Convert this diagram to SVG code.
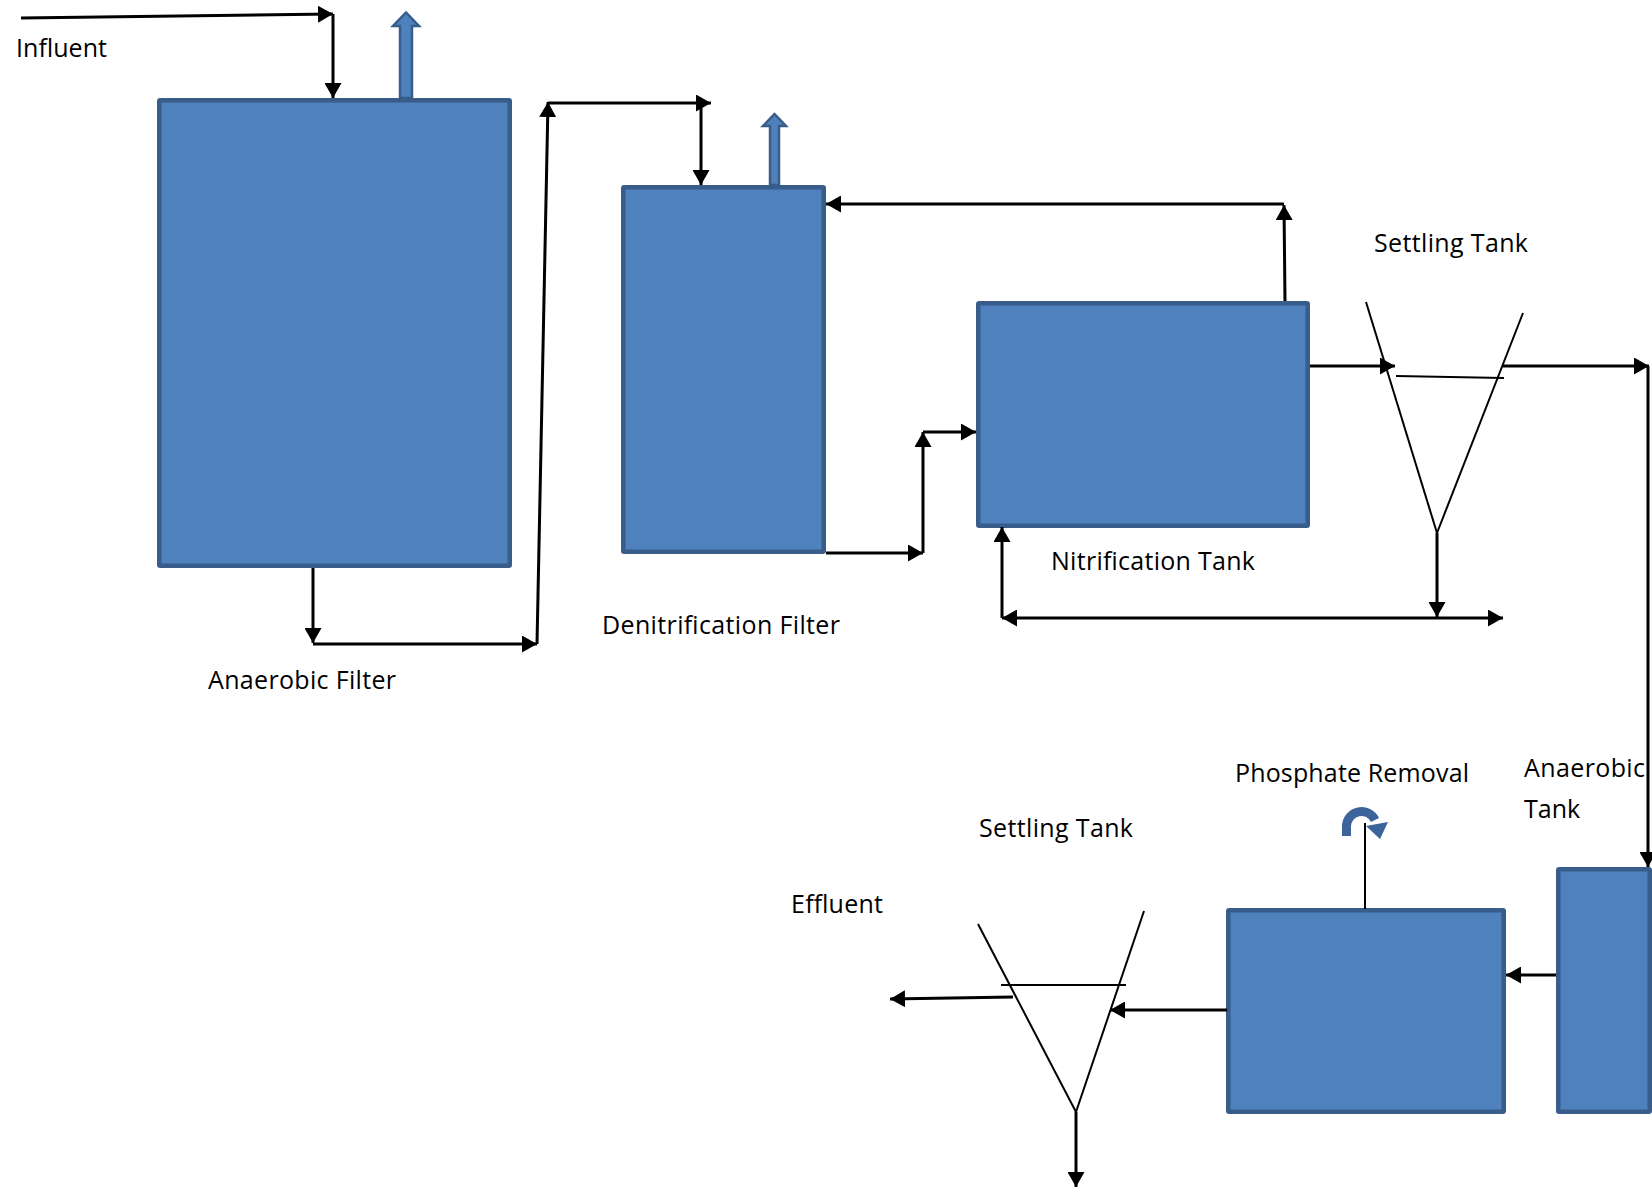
<svg xmlns="http://www.w3.org/2000/svg" width="1652" height="1189" viewBox="0 0 1652 1189">
<style>
.tank{fill:#4f81bd;stroke:#385d8a;stroke-width:4.5}
.barrow{fill:#4f81bd;stroke:#385d8a;stroke-width:2.5;stroke-linejoin:miter}
.c{stroke:#000;stroke-width:3;fill:none}
.thin{stroke:#000;stroke-width:2;fill:none}
.lbl{font-family:"Open Sans","Noto Sans","Liberation Sans",sans-serif;font-size:25px;fill:#000}
</style>
<defs>
<marker id="ah" markerUnits="userSpaceOnUse" markerWidth="15" markerHeight="17" refX="15" refY="8.5" orient="auto-start-reverse" viewBox="0 0 15 17">
<path d="M0,0 L15,8.5 L0,17 Z" fill="#000"/>
</marker>
</defs>
<rect width="1652" height="1189" fill="#fff"/>

<g id="anaerobic-filter">
<rect class="tank" x="159.25" y="100.25" width="350.5" height="465.5" rx="1"/>
<polygon class="barrow" points="400,98 400,26 393,26 406,12.5 419,26 412,26 412,98"/>
<text class="lbl" x="208" y="689" textLength="188" lengthAdjust="spacing">Anaerobic Filter</text>
</g>

<g id="denitrification-filter">
<rect class="tank" x="623.25" y="187.25" width="200.5" height="364.5" rx="1"/>
<polygon class="barrow" points="770,185 770,126 763,126 774.5,114 786,126 779,126 779,185"/>
<text class="lbl" x="602" y="634" textLength="238" lengthAdjust="spacing">Denitrification Filter</text>
</g>

<g id="nitrification-tank">
<rect class="tank" x="978.25" y="303.25" width="329.5" height="222.5" rx="1"/>
<text class="lbl" x="1051" y="570" textLength="204" lengthAdjust="spacing">Nitrification Tank</text>
</g>

<g id="settling-tank-1">
<line class="thin" x1="1366" y1="302" x2="1437" y2="533"/>
<line class="thin" x1="1523" y1="313" x2="1437" y2="533"/>
<line class="thin" x1="1396" y1="376" x2="1504" y2="378"/>
<text class="lbl" x="1374" y="252" textLength="154" lengthAdjust="spacing">Settling Tank</text>
</g>

<g id="anaerobic-tank">
<rect class="tank" x="1558.25" y="869.25" width="91.5" height="242.5" rx="1"/>
<text class="lbl" x="1524" y="777" textLength="121" lengthAdjust="spacing">Anaerobic</text>
<text class="lbl" x="1524" y="818">Tank</text>
</g>

<g id="phosphate-removal">
<rect class="tank" x="1228.25" y="910.25" width="275.5" height="201.5" rx="1"/>
<line class="thin" x1="1365" y1="909" x2="1365" y2="823"/>
<path d="M1346.5,836 L1346.5,826 A15,15 0 0 1 1375,820" fill="none" stroke="#3b659a" stroke-width="9"/>
<polygon points="1366,826 1388,822 1380,839" fill="#3b659a"/>
<text class="lbl" x="1235" y="782" textLength="234" lengthAdjust="spacing">Phosphate Removal</text>
</g>

<g id="settling-tank-2">
<line class="thin" x1="978" y1="924" x2="1076" y2="1112"/>
<line class="thin" x1="1144" y1="911" x2="1076" y2="1112"/>
<line class="thin" x1="1001" y1="985" x2="1126" y2="985"/>
<text class="lbl" x="979" y="837" textLength="154" lengthAdjust="spacing">Settling Tank</text>
</g>

<g id="influent">
<text class="lbl" x="16" y="57" textLength="91" lengthAdjust="spacing">Influent</text>
</g>
<g id="effluent">
<text class="lbl" x="791" y="913" textLength="92" lengthAdjust="spacing">Effluent</text>
</g>

<g id="connectors">
<line class="c" x1="21" y1="18" x2="333" y2="14" marker-end="url(#ah)"/>
<line class="c" x1="333" y1="14" x2="333" y2="98" marker-end="url(#ah)"/>
<line class="c" x1="313" y1="568" x2="313" y2="643" marker-end="url(#ah)"/>
<line class="c" x1="313" y1="644" x2="537" y2="644" marker-end="url(#ah)"/>
<line class="c" x1="537" y1="644" x2="548" y2="102" marker-end="url(#ah)"/>
<line class="c" x1="548" y1="103" x2="711" y2="103" marker-end="url(#ah)"/>
<line class="c" x1="701" y1="103" x2="701" y2="185" marker-end="url(#ah)"/>
<line class="c" x1="1285" y1="301" x2="1284" y2="205" marker-end="url(#ah)"/>
<line class="c" x1="1284" y1="204" x2="826" y2="204" marker-end="url(#ah)"/>
<line class="c" x1="826" y1="553" x2="923" y2="553" marker-end="url(#ah)"/>
<line class="c" x1="923" y1="553" x2="923" y2="432" marker-end="url(#ah)"/>
<line class="c" x1="923" y1="432" x2="976" y2="432" marker-end="url(#ah)"/>
<line class="c" x1="1310" y1="366" x2="1395" y2="366" marker-end="url(#ah)"/>
<line class="c" x1="1503" y1="366" x2="1649" y2="366" marker-end="url(#ah)"/>
<line class="c" x1="1648" y1="366" x2="1648" y2="867" marker-end="url(#ah)"/>
<line class="c" x1="1437" y1="533" x2="1437" y2="617" marker-end="url(#ah)"/>
<line class="c" x1="1002" y1="618" x2="1503" y2="618" marker-start="url(#ah)" marker-end="url(#ah)"/>
<line class="c" x1="1002" y1="618" x2="1002" y2="527" marker-end="url(#ah)"/>
<line class="c" x1="1556" y1="975" x2="1506" y2="975" marker-end="url(#ah)"/>
<line class="c" x1="1227" y1="1010" x2="1110" y2="1010" marker-end="url(#ah)"/>
<line class="c" x1="1013" y1="997" x2="890" y2="999" marker-end="url(#ah)"/>
<line class="c" x1="1076" y1="1112" x2="1076" y2="1187" marker-end="url(#ah)"/>
</g>
</svg>
